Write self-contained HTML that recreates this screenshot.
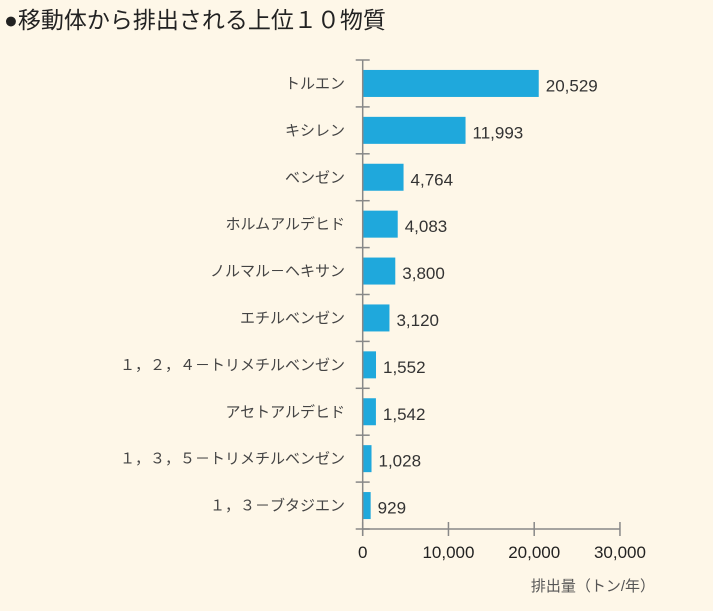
<!DOCTYPE html>
<html><head><meta charset="utf-8"><style>
body{margin:0;background:#fef7e8;width:713px;height:606px;overflow:hidden;font-family:"Liberation Sans","Noto Sans CJK JP",sans-serif}
</style></head><body>
<svg width="713" height="606" xmlns="http://www.w3.org/2000/svg">
<rect width="713" height="606" fill="#fef7e8"/>
<text x="4" y="28" font-size="23" fill="#222" font-family="Liberation Sans,Noto Sans CJK JP,sans-serif">●移動体から排出される上位１０物質</text>
<g id="plot"></g>
<text x="655" y="591" font-size="15" fill="#555" text-anchor="end" font-family="Liberation Sans,Noto Sans CJK JP,sans-serif">排出量（トン/年）</text>
</svg>
<script>
const categories=["トルエン","キシレン","ベンゼン","ホルムアルデヒド","ノルマル－ヘキサン","エチルベンゼン","１，２，４－トリメチルベンゼン","アセトアルデヒド","１，３，５－トリメチルベンゼン","１，３－ブタジエン"];
const values=[20529,11993,4764,4083,3800,3120,1552,1542,1028,929];
const valueLabels=["20,529","11,993","4,764","4,083","3,800","3,120","1,552","1,542","1,028","929"];
const xTicks=[0,10000,20000,30000];
const xTickLabels=["0","10,000","20,000","30,000"];
const NS="http://www.w3.org/2000/svg";
const plotG=document.getElementById('plot');
const x0=362.7,xPer=0.008575,yTop=60,yBottom=529;
const band=(yBottom-yTop)/categories.length;
const xs=v=>x0+v*xPer;
function mk(t,a){const e=document.createElementNS(NS,t);for(const k in a)e.setAttribute(k,a[k]);plotG.appendChild(e);return e;}
const FF="Liberation Sans,Noto Sans CJK JP,sans-serif";
categories.forEach((c,i)=>{
  const cy=yTop+band*(i+0.5);
  const r=mk('rect',{x:x0,y:cy-13.5,width:Math.max(0,xs(values[i])-x0),height:27,fill:'#1fa8dc'});
  
  
  const l=mk('text',{x:345,y:cy+5,'font-size':15,fill:'#444','text-anchor':'end','font-family':FF});
  l.textContent=c;
  
  
  const v=mk('text',{x:xs(values[i])+7,y:cy+8,'font-size':17,fill:'#333','font-family':FF});
  v.textContent=valueLabels[i];
  
  
});
for(let i=0;i<=categories.length;i++){
  const y=yTop+band*i;
  const t=mk('line',{x1:x0-7,x2:x0+7,y1:y,y2:y,stroke:'#888','stroke-width':1.5});
  
  
}
const ya=mk('line',{x1:x0,x2:x0,y1:yTop,y2:yBottom+7,stroke:'#888','stroke-width':1.5});


const xa=mk('line',{x1:x0,x2:xs(30000),y1:yBottom,y2:yBottom,stroke:'#888','stroke-width':1.5});


xTicks.forEach((t,i)=>{
  const l=mk('line',{x1:xs(t),x2:xs(t),y1:yBottom-7,y2:yBottom+7,stroke:'#888','stroke-width':1.5});
  
  
  const tx=mk('text',{x:xs(t),y:yBottom+29,'font-size':17,fill:'#222','text-anchor':'middle','font-family':FF});
  tx.textContent=xTickLabels[i];
  
  
});
</script>
</body></html>
